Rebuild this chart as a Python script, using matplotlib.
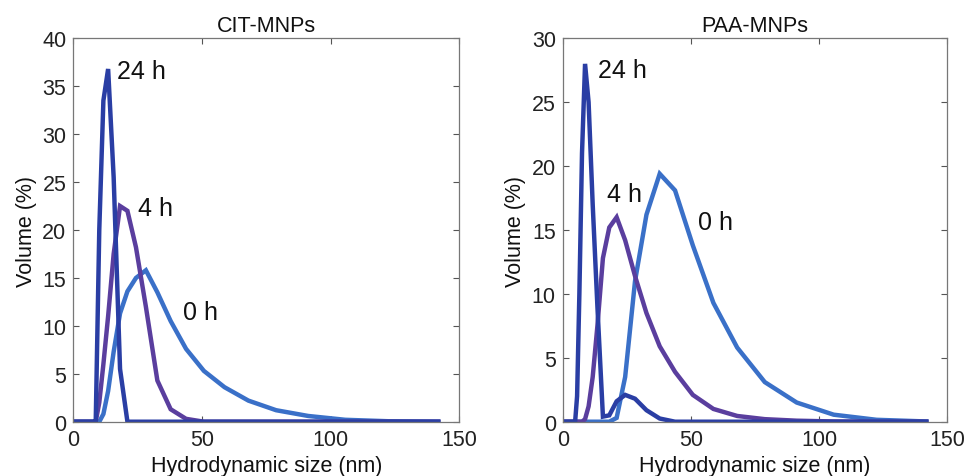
import matplotlib
matplotlib.use("Agg")
import matplotlib.pyplot as plt

# ── DLS size bins (nm) and volume distributions (%) ─────────────────────────
size_nm = [0.4, 4.849, 5.615, 6.503, 7.531, 8.721, 10.1, 11.7, 13.54, 15.69,
           18.17, 21.04, 24.36, 28.21, 32.67, 37.84, 43.82, 50.75, 58.77,
           68.06, 78.82, 91.28, 105.7, 122.4, 141.8]

# CIT-MNPs
cit_0h = [0, 0, 0, 0, 0, 0, 0, 0.8, 3.2, 7.3,
          11.3, 13.6, 15.0, 15.8, 13.5, 10.5, 7.6, 5.3, 3.6,
          2.2, 1.2, 0.6, 0.2, 0.05, 0]
cit_4h = [0, 0, 0, 0, 0, 0, 2.0, 6.0, 11.0, 17.5,
          22.5, 22.0, 18.2, 12.0, 4.3, 1.3, 0.3, 0, 0,
          0, 0, 0, 0, 0, 0]
cit_24h = [0, 0, 0, 0, 0, 0, 20.0, 33.5, 36.8, 25.5,
           5.5, 0, 0, 0, 0, 0, 0, 0, 0,
           0, 0, 0, 0, 0, 0]

# PAA-MNPs
paa_0h = [0, 0, 0, 0, 0, 0, 0, 0, 0, 0,
          0, 0.3, 3.5, 11.0, 16.2, 19.4, 18.1, 13.8, 9.3,
          5.8, 3.1, 1.5, 0.55, 0.15, 0.02]
paa_4h = [0, 0, 0, 0, 0, 0.2, 1.2, 3.5, 7.5, 12.8,
          15.2, 16.0, 14.2, 11.4, 8.5, 5.9, 3.9, 2.1, 1.0,
          0.45, 0.2, 0.08, 0.02, 0, 0]
paa_24h = [0, 0, 2.0, 10.0, 21.0, 28.0, 25.0, 17.0, 9.0, 0.4,
           0.5, 1.6, 2.1, 1.8, 0.9, 0.25, 0, 0, 0,
           0, 0, 0, 0, 0, 0]

titles = ["CIT-MNPs", "PAA-MNPs"]
ymax = [40, 30]
# label anchor points (x nm, y %) for 24 h, 4 h, 0 h
label_pos = [
    [(17.1, 36.6), (25.0, 22.3), (42.5, 11.4)],
    [(13.9, 27.5), (17.2, 17.8), (52.8, 15.65)],
]
time_labels = ["24 h", "4 h", "0 h"]

c_0h = "#3a70c8"
c_4h = "#5a3e9e"
c_24h = "#2a3ea4"

plt.rcParams["font.family"] = ["Liberation Sans", "DejaVu Sans"]

fig = plt.figure(figsize=(9.68, 4.77), dpi=100)
axes = [fig.add_axes([0.0757, 0.1138, 0.3988, 0.8038]),
        fig.add_axes([0.5813, 0.1138, 0.3973, 0.8038])]

data = [(cit_0h, cit_4h, cit_24h), (paa_0h, paa_4h, paa_24h)]

for i, ax in enumerate(axes):
    v0, v4, v24 = data[i]
    ax.plot(size_nm, v0, color=c_0h, lw=3.2, solid_joinstyle="miter")
    ax.plot(size_nm, v4, color=c_4h, lw=3.2, solid_joinstyle="miter")
    ax.plot(size_nm, v24, color=c_24h, lw=3.2, solid_joinstyle="miter")

    for lab, (lx, ly) in zip(time_labels, label_pos[i]):
        ax.text(lx, ly, lab, fontsize=18, ha="left", va="center", color="#111111")

    ax.set_xlim(0, 150)
    ax.set_ylim(0, ymax[i])
    ax.set_xticks([0, 50, 100, 150])
    ax.set_yticks(range(0, ymax[i] + 1, 5))
    ax.tick_params(direction="in", top=True, right=True, length=4, width=0.8,
                   labelsize=15.5, pad=5, colors="#555555", labelcolor="#222222")
    for sp in ax.spines.values():
        sp.set_color("#777777")
        sp.set_linewidth(0.9)
    ax.set_title(titles[i], fontsize=15.5, pad=5, color="#111111")
    ax.set_xlabel("Hydrodynamic size (nm)", fontsize=15.5, labelpad=4, color="#111111")
    ax.set_ylabel("Volume (%)", fontsize=15.5, labelpad=4, color="#111111")

fig.savefig("out.png", dpi=100)
